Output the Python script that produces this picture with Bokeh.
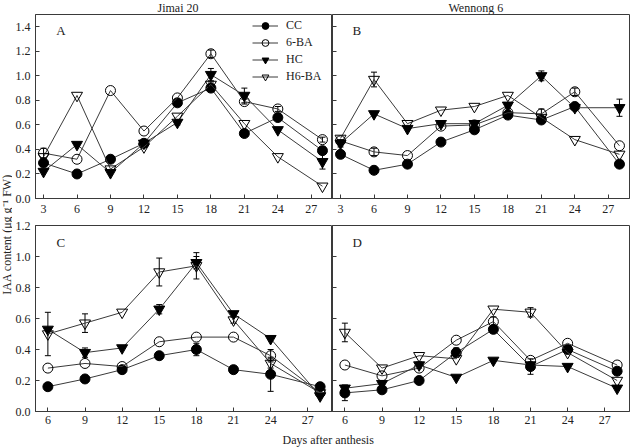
import math

from bokeh.plotting import figure
from bokeh.layouts import row, column
from bokeh.models import (ColumnDataSource, Whisker, TeeHead, Legend, LegendItem,
                          Label, FixedTicker, Range1d)
from bokeh.embed import file_html
from bokeh.resources import INLINE

FONT = "Liberation Serif"

# Sampling days (days after anthesis)
days_top = [3, 6, 9, 12, 15, 18, 21, 24, 28]
days_bottom = [6, 9, 12, 15, 18, 21, 24, 28]
ticks_top = [3, 6, 9, 12, 15, 18, 21, 24, 27]
ticks_bottom = [6, 9, 12, 15, 18, 21, 24, 27]

treatments = ["CC", "6-BA", "HC", "H6-BA"]
cultivars = ["Jimai 20", "Wennong 6"]

# IAA content (ug g-1 FW) -- panel A, Jimai 20
a_cc = [0.29, 0.20, 0.32, 0.45, 0.78, 0.90, 0.53, 0.66, 0.39]
a_6ba = [0.37, 0.32, 0.88, 0.55, 0.82, 1.18, 0.79, 0.73, 0.48]
a_hc = [0.22, 0.44, 0.21, 0.45, 0.62, 1.01, 0.84, 0.56, 0.30]
a_h6ba = [0.34, 0.84, 0.24, 0.42, 0.67, 0.93, 0.61, 0.34, 0.10]
a_cc_se = [0.02, 0, 0, 0, 0.02, 0.02, 0, 0.02, 0.03]
a_6ba_se = [0.04, 0, 0, 0, 0, 0.03, 0.02, 0.02, 0.02]
a_hc_se = [0, 0, 0, 0, 0.02, 0.05, 0.06, 0, 0.06]
a_h6ba_se = [0, 0, 0, 0, 0, 0.02, 0, 0, 0]

# panel B, Wennong 6
b_cc = [0.36, 0.23, 0.28, 0.46, 0.56, 0.68, 0.64, 0.75, 0.28]
b_6ba = [0.47, 0.38, 0.35, 0.59, 0.60, 0.70, 0.69, 0.87, 0.43]
b_hc = [0.45, 0.69, 0.57, 0.61, 0.61, 0.76, 1.00, 0.74, 0.74]
b_h6ba = [0.49, 0.97, 0.61, 0.72, 0.75, 0.84, 0.66, 0.48, 0.36]
b_cc_se = [0, 0, 0, 0, 0, 0.02, 0, 0, 0]
b_6ba_se = [0, 0.03, 0, 0, 0, 0.02, 0.04, 0.03, 0]
b_hc_se = [0.03, 0, 0, 0, 0, 0, 0.04, 0, 0.07]
b_h6ba_se = [0, 0.06, 0, 0, 0, 0, 0, 0, 0]

# panel C, Jimai 20
c_cc = [0.16, 0.21, 0.27, 0.36, 0.40, 0.27, 0.24, 0.16]
c_6ba = [0.28, 0.31, 0.29, 0.45, 0.48, 0.48, 0.36, 0.12]
c_hc = [0.53, 0.38, 0.41, 0.66, 0.96, 0.63, 0.47, 0.10]
c_h6ba = [0.50, 0.57, 0.64, 0.90, 0.94, 0.59, 0.31, 0.12]
c_cc_se = [0, 0, 0, 0, 0.04, 0, 0.11, 0]
c_6ba_se = [0, 0, 0, 0, 0, 0, 0.04, 0]
c_hc_se = [0, 0.03, 0, 0.03, 0.04, 0, 0, 0]
c_h6ba_se = [0.14, 0.06, 0, 0.09, 0.085, 0.02, 0.03, 0]

# panel D, Wennong 6
d_cc = [0.12, 0.14, 0.20, 0.38, 0.53, 0.29, 0.40, 0.26]
d_6ba = [0.30, 0.23, 0.28, 0.46, 0.58, 0.33, 0.44, 0.30]
d_hc = [0.15, 0.18, 0.30, 0.22, 0.33, 0.30, 0.29, 0.15]
d_h6ba = [0.51, 0.28, 0.36, 0.34, 0.66, 0.64, 0.38, 0.20]
d_cc_se = [0.05, 0, 0, 0.03, 0.02, 0.05, 0, 0]
d_6ba_se = [0, 0, 0, 0, 0.03, 0, 0, 0]
d_hc_se = [0.02, 0.02, 0.02, 0, 0, 0, 0, 0]
d_h6ba_se = [0.06, 0, 0, 0, 0, 0.03, 0, 0]

LINE = "#3a3a3a"
AXIS = "#3a3a3a"
TEXT = "#222222"

STYLES = {
    "CC": dict(marker="circle", size=10, fill_color="black"),
    "6-BA": dict(marker="circle", size=10, fill_color=None),
    "HC": dict(marker="inverted_triangle", size=11, fill_color="black"),
    "H6-BA": dict(marker="inverted_triangle", size=11, fill_color=None),
}


def make_panel(days, values, errors, x_range, y_range, y_ticks, x_ticks,
               letter, letter_xy, frame_w, frame_h, borders, show_ylabels,
               legend_loc=None, x_standoff=6):
    left, right, top, bottom = borders
    p = figure(frame_width=frame_w, frame_height=frame_h,
               x_range=Range1d(*x_range), y_range=Range1d(*y_range),
               toolbar_location=None, output_backend="svg",
               min_border_left=left, min_border_right=right,
               min_border_top=top, min_border_bottom=bottom,
               background_fill_color="white", border_fill_color="white")
    p.grid.visible = False
    p.outline_line_color = AXIS
    p.outline_line_width = 1

    for ax, ticks in ((p.xaxis[0], x_ticks), (p.yaxis[0], y_ticks)):
        ax.ticker = FixedTicker(ticks=ticks)
        ax.major_tick_in = 4
        ax.major_tick_out = 0
        ax.minor_tick_line_color = None
        ax.axis_line_color = AXIS
        ax.major_tick_line_color = AXIS
        ax.major_label_text_font = FONT
        ax.major_label_text_font_size = "12px"
        ax.major_label_text_color = TEXT
    p.xaxis[0].major_label_standoff = x_standoff
    if show_ylabels:
        p.yaxis[0].major_label_overrides = {t: f"{t:.1f}" for t in y_ticks}
        p.yaxis[0].major_label_standoff = 5
    else:
        # the right-hand panels share the left panels' y scale: ticks only
        p.yaxis[0].major_label_overrides = {t: "" for t in y_ticks}
        p.yaxis[0].major_label_standoff = 0

    items = []
    for name, vals, errs in zip(treatments, values, errors):
        st = STYLES[name]
        # error bars for the points where the spread is visible
        xs = [d for d, e in zip(days, errs) if e > 0]
        ys = [v for v, e in zip(vals, errs) if e > 0]
        es = [e for e in errs if e > 0]
        if xs:
            src = ColumnDataSource(dict(x=xs,
                                        upper=[y + e for y, e in zip(ys, es)],
                                        lower=[y - e for y, e in zip(ys, es)]))
            p.add_layout(Whisker(source=src, base="x", upper="upper", lower="lower",
                                 dimension="height", line_color="black", line_width=1,
                                 upper_head=TeeHead(size=6, line_color="black", line_width=1),
                                 lower_head=TeeHead(size=6, line_color="black", line_width=1)))
        ln = p.line(days, vals, line_color=LINE, line_width=1)
        sc = p.scatter(days, vals, marker=st["marker"], size=st["size"],
                       fill_color=st["fill_color"], line_color="black", line_width=1)
        items.append(LegendItem(label=name, renderers=[ln, sc]))

    if legend_loc is not None:
        leg = Legend(items=items, location=legend_loc, border_line_color=None,
                     background_fill_alpha=0, padding=0, margin=0, spacing=0,
                     glyph_width=26, glyph_height=17, label_height=17,
                     label_standoff=8, label_text_font=FONT,
                     label_text_font_size="12px", label_text_color=TEXT)
        p.add_layout(leg)

    p.add_layout(Label(x=letter_xy[0], y=letter_xy[1], text=letter,
                       text_font=FONT, text_font_size="13px",
                       text_baseline="middle", text_align="left",
                       text_color=TEXT))
    return p


yt_top = [0.0, 0.2, 0.4, 0.6, 0.8, 1.0, 1.2, 1.4]
yt_bottom = [0.0, 0.2, 0.4, 0.6, 0.8, 1.0, 1.2]
xr_top = (2.28, 28.9)
xr_bottom = (5.0, 29.0)

pA = make_panel(days_top, [a_cc, a_6ba, a_hc, a_h6ba],
                [a_cc_se, a_6ba_se, a_hc_se, a_h6ba_se],
                xr_top, (0, 1.5), yt_top, ticks_top, "A", (4.15, 1.37),
                297, 184, (22, 0, 0, 21), True, legend_loc=(217, 113))
pB = make_panel(days_top, [b_cc, b_6ba, b_hc, b_h6ba],
                [b_cc_se, b_6ba_se, b_hc_se, b_h6ba_se],
                xr_top, (0, 1.5), yt_top, ticks_top, "B", (4.07, 1.37),
                297, 184, (0, 2, 0, 21), False)
pC = make_panel(days_bottom, [c_cc, c_6ba, c_hc, c_h6ba],
                [c_cc_se, c_6ba_se, c_hc_se, c_h6ba_se],
                xr_bottom, (0, 1.2), yt_bottom, ticks_bottom, "C", (6.7, 1.09),
                297, 186, (22, 0, 6, 18), True, x_standoff=4)
pD = make_panel(days_bottom, [d_cc, d_6ba, d_hc, d_h6ba],
                [d_cc_se, d_6ba_se, d_hc_se, d_h6ba_se],
                xr_bottom, (0, 1.2), yt_bottom, ticks_bottom, "D", (6.62, 1.09),
                297, 186, (0, 2, 6, 18), False, x_standoff=4)


def text_strip(w, h):
    s = figure(width=w, height=h, x_range=Range1d(0, w), y_range=Range1d(0, h),
               x_axis_location=None, y_axis_location=None,
               toolbar_location=None, output_backend="svg",
               min_border=0, outline_line_color=None)
    s.grid.visible = False
    return s


# cultivar names above the two columns of panels
heads = text_strip(618, 14)
for name, xpos in zip(cultivars, (145, 436)):
    heads.add_layout(Label(x=xpos, y=7, text=name, text_align="left",
                           text_baseline="middle", text_font=FONT,
                           text_font_size="12px", text_color=TEXT))

# shared y-axis title on the left
ylab = text_strip(12, 447)
ylab.add_layout(Label(x=6, y=213, text="IAA content (\u03bcg g\u207b\u00b9 FW)",
                      angle=math.pi / 2, text_align="center", text_baseline="middle",
                      text_font=FONT, text_font_size="12px", text_color=TEXT))

# shared x-axis title at the bottom
xlab = text_strip(618, 18)
xlab.add_layout(Label(x=270, y=8, text="Days after anthesis",
                      text_align="left", text_baseline="middle",
                      text_font=FONT, text_font_size="12px", text_color=TEXT))

layout = row(ylab, column(heads, row(pA, pB), row(pC, pD), xlab))

with open("out.html", "w") as f:
    f.write(file_html(layout, INLINE))
